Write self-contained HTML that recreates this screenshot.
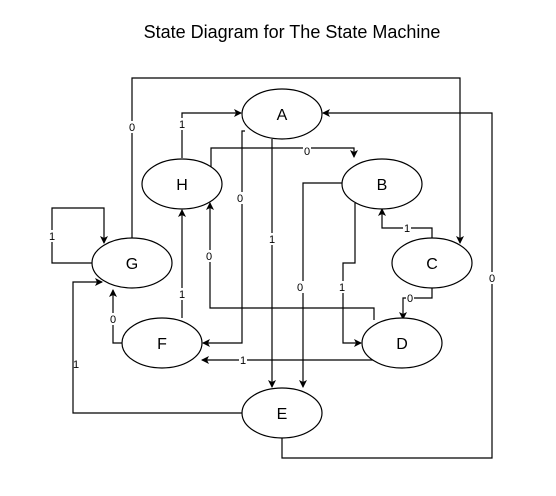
<!DOCTYPE html>
<html><head><meta charset="utf-8"><style>
html,body{margin:0;padding:0;background:#fff;}
svg{display:block;}
text{font-family:"Liberation Sans",sans-serif;}
</style></head><body>
<svg width="556" height="496" viewBox="0 0 556 496" xmlns="http://www.w3.org/2000/svg">
<defs>
<marker id="a" markerWidth="10" markerHeight="10" refX="8" refY="5" orient="auto" markerUnits="userSpaceOnUse">
<path d="M1,1 L9,5 L1,9 L3,5 Z" fill="#000"/>
</marker>
</defs>
<text x="292" y="38" font-size="18" text-anchor="middle">State Diagram for The State Machine</text>
<g fill="none" stroke="#000" stroke-width="1.2" marker-end="url(#a)">
<polyline points="132,238 132,78 460,78 460,243"/>
<polyline points="92,263 52,263 52,208 104,208 104,243"/>
<polyline points="182,158 182,113 241,113"/>
<polyline points="211,167 211,148 354,148 354,157"/>
<polyline points="245,131 242,131 242,343 203,343"/>
<polyline points="272,139 272,387"/>
<polyline points="182,318 182,210"/>
<polyline points="122,343 113,343 113,290"/>
<polyline points="374,320 374,308 210,308 210,203"/>
<polyline points="378,360 202,360"/>
<polyline points="242,413 73,413 73,282 102,282"/>
<polyline points="282,438 282,458 492,458 492,113 323,113"/>
<polyline points="342,183 303,183 303,387"/>
<polyline points="355,203 355,263 343,263 343,343 361,343"/>
<polyline points="432,238 432,228 382,228 382,209"/>
<polyline points="432,288 432,298 403,298 403,319"/>
</g>
<g fill="#fff" stroke="#000" stroke-width="1.2">
<ellipse cx="282" cy="114" rx="40" ry="25"/>
<ellipse cx="182" cy="184" rx="40" ry="25"/>
<ellipse cx="382" cy="184" rx="40" ry="25"/>
<ellipse cx="132" cy="263" rx="40" ry="25"/>
<ellipse cx="432" cy="263" rx="40" ry="25"/>
<ellipse cx="162" cy="343" rx="40" ry="25"/>
<ellipse cx="402" cy="343" rx="40" ry="25"/>
<ellipse cx="282" cy="413" rx="40" ry="25"/>
</g>
<g font-size="16" text-anchor="middle">
<text x="282" y="120">A</text>
<text x="182" y="190">H</text>
<text x="382" y="190">B</text>
<text x="132" y="269">G</text>
<text x="432" y="269">C</text>
<text x="162" y="349">F</text>
<text x="402" y="349">D</text>
<text x="282" y="419">E</text>
</g>
<g font-size="11" text-anchor="middle">
<g fill="#fff">
<rect x="128" y="121" width="8" height="12"/>
<rect x="48" y="230" width="8" height="12"/>
<rect x="178" y="118" width="8" height="12"/>
<rect x="303" y="145" width="8" height="12"/>
<rect x="236" y="192" width="8" height="12"/>
<rect x="268" y="233" width="8" height="12"/>
<rect x="178" y="288" width="8" height="12"/>
<rect x="109" y="313" width="8" height="12"/>
<rect x="205" y="250" width="8" height="12"/>
<rect x="239" y="354" width="8" height="12"/>
<rect x="296" y="281" width="8" height="12"/>
<rect x="338" y="281" width="8" height="12"/>
<rect x="403" y="222" width="8" height="12"/>
<rect x="406" y="292" width="8" height="12"/>
<rect x="488" y="272" width="8" height="12"/>
</g>
<text x="132" y="131">0</text>
<text x="52" y="240">1</text>
<text x="182" y="128">1</text>
<text x="307" y="155">0</text>
<text x="240" y="202">0</text>
<text x="272" y="243">1</text>
<text x="182" y="298">1</text>
<text x="113" y="323">0</text>
<text x="209" y="260">0</text>
<text x="243" y="364">1</text>
<text x="76" y="368">1</text>
<text x="300" y="291">0</text>
<text x="342" y="291">1</text>
<text x="407" y="232">1</text>
<text x="410" y="302">0</text>
<text x="492" y="282">0</text>
</g>
</svg>
</body></html>
